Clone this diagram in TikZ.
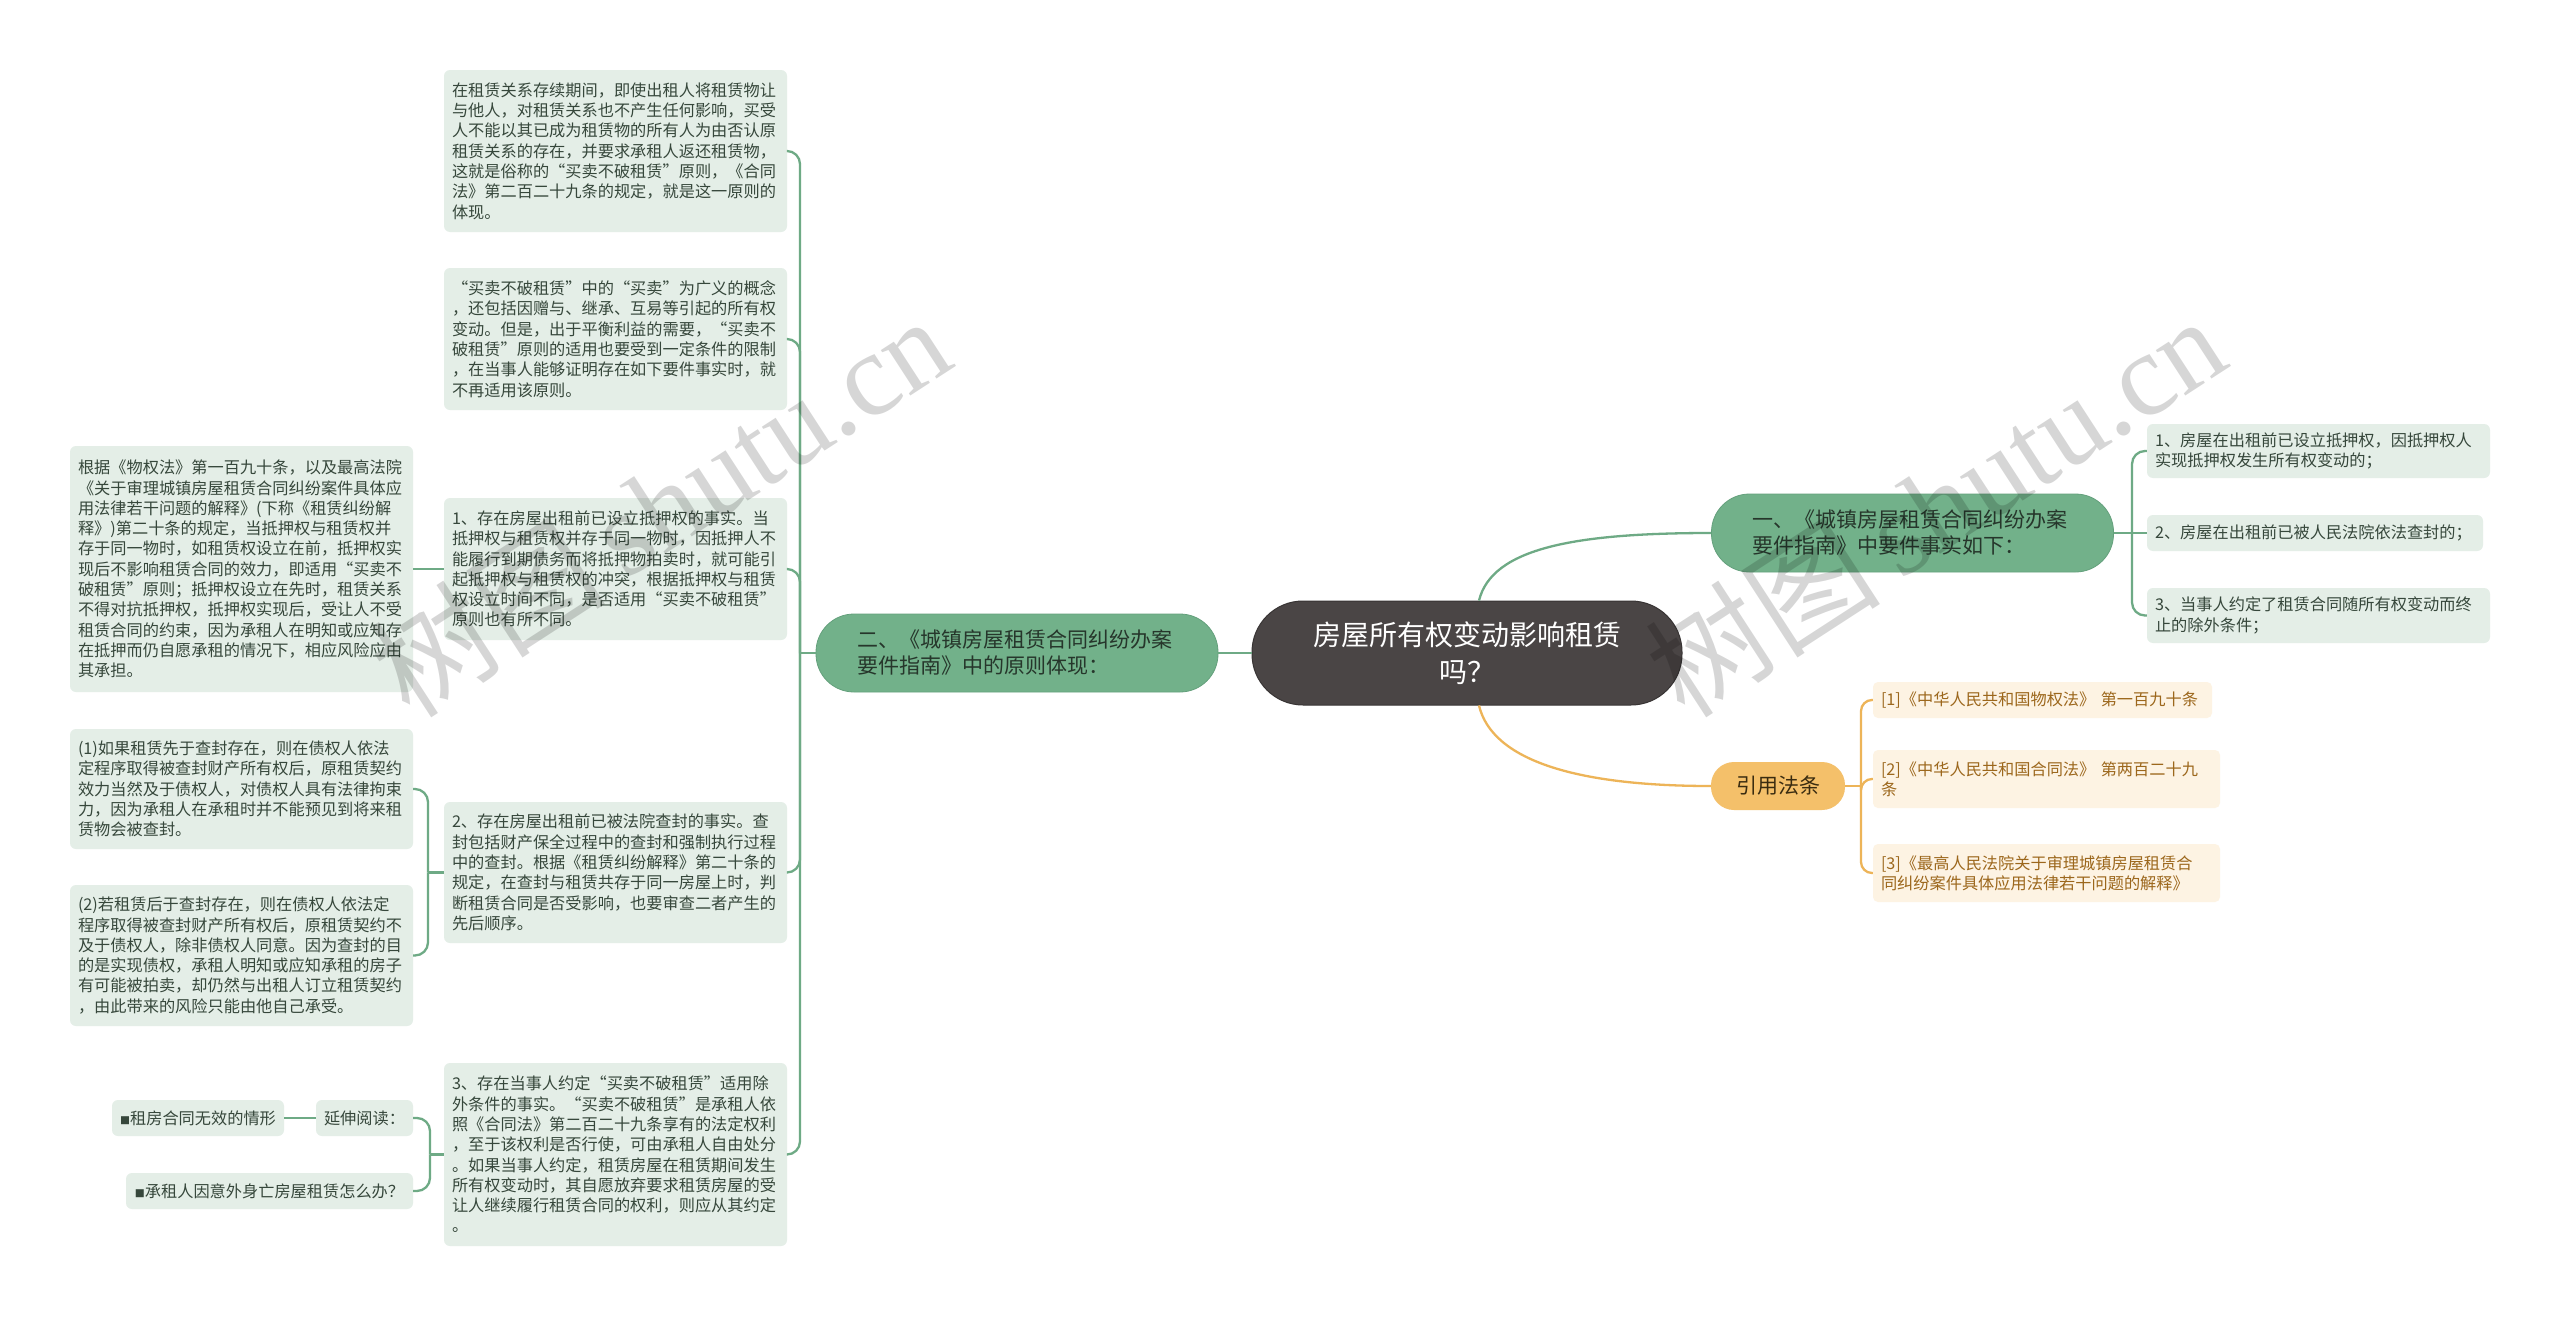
\documentclass[tikz,border=0pt]{standalone}
\usepackage{fontspec}
\setmainfont{Noto Sans CJK SC}
\newfontfamily\wmserif{Liberation Serif}
\usetikzlibrary{calc}
\definecolor{leaffill}{HTML}{E4EEE7}
\definecolor{leaftext}{HTML}{36473B}
\definecolor{gline}{HTML}{6EAA85}
\definecolor{branchfill}{HTML}{72B18A}
\definecolor{branchdraw}{HTML}{64A07C}
\definecolor{branchtext}{HTML}{26362B}
\definecolor{centerfill}{HTML}{4A4545}
\definecolor{centerdraw}{HTML}{383434}
\definecolor{oline}{HTML}{EDB458}
\definecolor{orfill}{HTML}{F4C06A}
\definecolor{ortext}{HTML}{3A2C10}
\definecolor{reffill}{HTML}{FDF3E3}
\definecolor{reftext}{HTML}{9C671C}
\newcommand\sqmark{{\fontsize{10pt}{10pt}\selectfont ■}}
\begin{document}
\begin{tikzpicture}[x=1pt,y=-1pt,
  leafbox/.style={rounded corners=6pt, fill=leaffill, text=leaftext, inner xsep=8pt, inner ysep=0pt,
    align=left, text width=327pt, font=\fontsize{16.2pt}{20.3pt}\selectfont},
  smallbox/.style={rounded corners=6pt, fill=leaffill, text=leaftext, inner sep=0pt,
    align=center, minimum height=36pt, font=\fontsize{16.2pt}{20.3pt}\selectfont},
  refbox/.style={rounded corners=5pt, fill=reffill, text=reftext, inner xsep=8pt, inner ysep=0pt,
    align=left, font=\fontsize{16.2pt}{20.3pt}\selectfont},
  branch/.style={rounded corners=38pt, fill=branchfill, draw=branchdraw, line width=0.8pt, text=branchtext,
    text width=320pt, inner xsep=41pt, inner ysep=0pt, minimum height=78pt, align=left,
    font=\fontsize{21pt}{26pt}\selectfont},
  centerbox/.style={rounded corners=51pt, fill=centerfill, draw=centerdraw, line width=1pt, text=white,
    minimum width=430pt, minimum height=104pt, inner sep=0pt, align=center,
    font=\fontsize{28pt}{37pt}\selectfont},
  orbox/.style={rounded corners=23pt, fill=orfill, text=ortext, minimum width=134pt, minimum height=48pt,
    inner sep=0pt, font=\fontsize{21pt}{26pt}\selectfont},
  gconn/.style={draw=gline, line width=2.3pt},
  gbr/.style={draw=gline, line width=2.3pt, rounded corners=13pt},
  oconn/.style={draw=oline, line width=2.3pt},
  obr/.style={draw=oline, line width=2.3pt, rounded corners=11pt},
  wm/.style={text=black, opacity=0.16, inner sep=0pt, font=\fontsize{118pt}{118pt}\selectfont}
]
\useasboundingbox (0,0) rectangle (2560,1317);
\fill[white] (0,0) rectangle (2560,1317);

% center and branches
\node[centerbox] (c) at (1467,653) {房屋所有权变动影响租赁\\吗？};
\node[branch] (b2) at (1017,653) {二、《城镇房屋租赁合同纠纷办案\\要件指南》中的原则体现：};
\node[branch] (b1) at (1912.5,533) {一、《城镇房屋租赁合同纠纷办案\\要件指南》中要件事实如下：};
\node[orbox] (b3) at (1778,786) {引用法条};

% left column
\node[leafbox, minimum height=162pt] (l1) at (615.5,151) {在租赁关系存续期间，即使出租人将租赁物让\\与他人，对租赁关系也不产生任何影响，买受\\人不能以其已成为租赁物的所有人为由否认原\\租赁关系的存在，并要求承租人返还租赁物，\\这就是俗称的“买卖不破租赁”原则，《合同\\法》第二百二十九条的规定，就是这一原则的\\体现。};
\node[leafbox, minimum height=142pt] (l2) at (615.5,339) {“买卖不破租赁”中的“买卖”为广义的概念\\，还包括因赠与、继承、互易等引起的所有权\\变动。但是，出于平衡利益的需要，“买卖不\\破租赁”原则的适用也要受到一定条件的限制\\，在当事人能够证明存在如下要件事实时，就\\不再适用该原则。};
\node[leafbox, minimum height=142pt] (l3) at (615.5,569) {1、存在房屋出租前已设立抵押权的事实。当\\抵押权与租赁权并存于同一物时，因抵押人不\\能履行到期债务而将抵押物拍卖时，就可能引\\起抵押权与租赁权的冲突，根据抵押权与租赁\\权设立时间不同，是否适用“买卖不破租赁”\\原则也有所不同。};
\node[leafbox, minimum height=141pt] (l4) at (615.5,872.5) {2、存在房屋出租前已被法院查封的事实。查\\封包括财产保全过程中的查封和强制执行过程\\中的查封。根据《租赁纠纷解释》第二十条的\\规定，在查封与租赁共存于同一房屋上时，判\\断租赁合同是否受影响，也要审查二者产生的\\先后顺序。};
\node[leafbox, minimum height=183pt] (l5) at (615.5,1154.5) {3、存在当事人约定“买卖不破租赁”适用除\\外条件的事实。“买卖不破租赁”是承租人依\\照《合同法》第二百二十九条享有的法定权利\\，至于该权利是否行使，可由承租人自由处分\\。如果当事人约定，租赁房屋在租赁期间发生\\所有权变动时，其自愿放弃要求租赁房屋的受\\让人继续履行租赁合同的权利，则应从其约定\\。};

% far left column
\node[leafbox, minimum height=246pt] (ll1) at (241.5,569) {根据《物权法》第一百九十条，以及最高法院\\《关于审理城镇房屋租赁合同纠纷案件具体应\\用法律若干问题的解释》(下称《租赁纠纷解\\释》)第二十条的规定，当抵押权与租赁权并\\存于同一物时，如租赁权设立在前，抵押权实\\现后不影响租赁合同的效力，即适用“买卖不\\破租赁”原则；抵押权设立在先时，租赁关系\\不得对抗抵押权，抵押权实现后，受让人不受\\租赁合同的约束，因为承租人在明知或应知存\\在抵押而仍自愿承租的情况下，相应风险应由\\其承担。};
\node[leafbox, minimum height=120pt] (ll2) at (241.5,789) {(1)如果租赁先于查封存在，则在债权人依法\\定程序取得被查封财产所有权后，原租赁契约\\效力当然及于债权人，对债权人具有法律拘束\\力，因为承租人在承租时并不能预见到将来租\\赁物会被查封。};
\node[leafbox, minimum height=141pt] (ll3) at (241.5,955.5) {(2)若租赁后于查封存在，则在债权人依法定\\程序取得被查封财产所有权后，原租赁契约不\\及于债权人，除非债权人同意。因为查封的目\\的是实现债权，承租人明知或应知承租的房子\\有可能被拍卖，却仍然与出租人订立租赁契约\\，由此带来的风险只能由他自己承受。};
\node[smallbox, minimum width=97pt] (ext) at (364.5,1118) {延伸阅读：};
\node[smallbox, minimum width=172pt] (ext1) at (198,1118) {\sqmark 租房合同无效的情形};
\node[smallbox, minimum width=287pt] (ext2) at (269.5,1191) {\sqmark 承租人因意外身亡房屋租赁怎么办？};

% right leaves
\node[leafbox, minimum height=54pt] (r1) at (2318.5,451) {1、房屋在出租前已设立抵押权，因抵押权人\\实现抵押权发生所有权变动的；};
\node[leafbox, text width=320pt, minimum height=36pt] (r2) at (2315,533) {2、房屋在出租前已被人民法院依法查封的；};
\node[leafbox, minimum height=55pt] (r3) at (2318.5,615.5) {3、当事人约定了租赁合同随所有权变动而终\\止的除外条件；};

% references
\node[refbox, text width=323pt, minimum height=36pt] (f1) at (2042.5,700) {[1]《中华人民共和国物权法》 第一百九十条};
\node[refbox, text width=331pt, minimum height=58pt] (f2) at (2046.5,779) {[2]《中华人民共和国合同法》 第两百二十九\\条};
\node[refbox, text width=331pt, minimum height=58pt] (f3) at (2046.5,873) {[3]《最高人民法院关于审理城镇房屋租赁合\\同纠纷案件具体应用法律若干问题的解释》};

% connectors: center
\draw[gconn] (c.west) -- (b2.east);
\draw[gconn] ([xshift=12pt]c.north) .. controls (1492,548) and (1575,533) .. (b1.west);
\draw[oconn] ([xshift=12pt]c.south) .. controls (1492,760) and (1575,786) .. (b3.west);

% left branch
\coordinate (t2) at (800,653);
\draw[gconn] (b2.west) -- (t2);
\foreach \n in {l1,l2,l3,l4,l5} \draw[gbr] (t2) |- (\n.east);
\draw[gconn] (ll1.east) -- (l3.west);
\coordinate (t4) at (428,872.5);
\draw[gconn] (l4.west) -- (t4);
\draw[gbr] (t4) |- (ll2.east);
\draw[gbr] (t4) |- (ll3.east);
\coordinate (t5) at (430,1154.5);
\draw[gconn] (l5.west) -- (t5);
\draw[gbr] (t5) |- (ext.east);
\draw[gbr] (t5) |- (ext2.east);
\draw[gconn] (ext.west) -- (ext1.east);

% right branch
\coordinate (t1) at (2132,533);
\draw[gconn] (b1.east) -- (t1);
\draw[gbr] (t1) |- (r1.west);
\draw[gconn] (t1) -- (r2.west);
\draw[gbr] (t1) |- (r3.west);

% references
\coordinate (t3) at (1861,786);
\draw[oconn] (b3.east) -- (t3);
\draw[obr] (t3) |- (f1.west);
\draw[obr] (t3) |- (f2.west);
\draw[obr] (t3) |- (f3.west);

% watermarks
\node[wm, rotate=33] (wm1) at (660,505) {树图\,{\wmserif shutu.cn}};
\node[wm, rotate=33] (wm2) at (1935,505) {树图\,{\wmserif shutu.cn}};
\end{tikzpicture}
\end{document}
